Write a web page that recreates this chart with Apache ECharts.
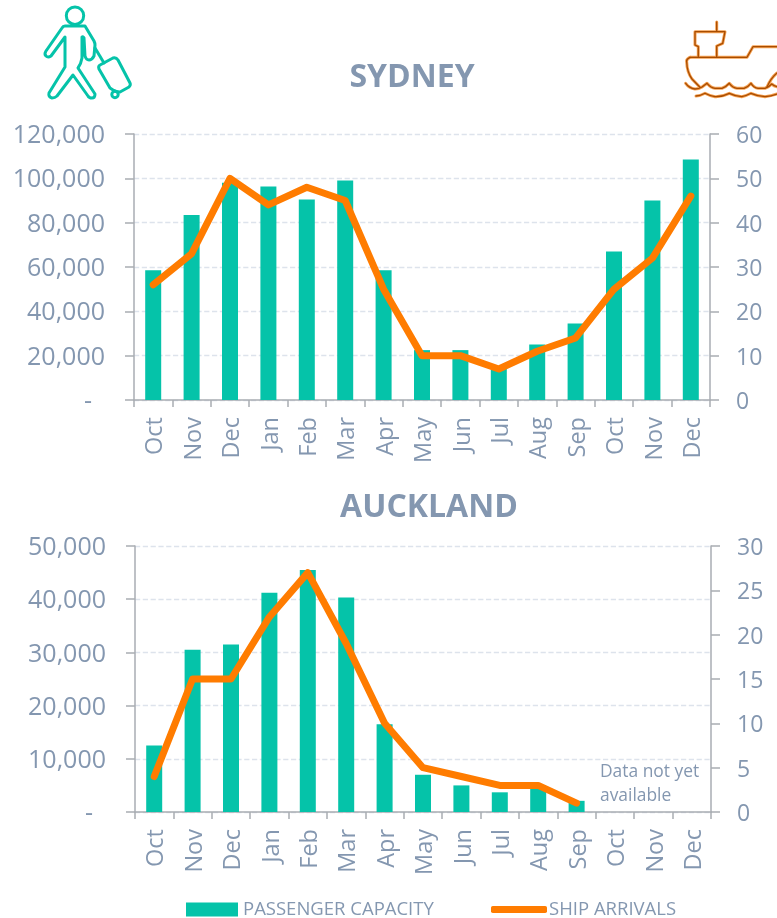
<!DOCTYPE html>
<html><head><meta charset="utf-8">
<style>html,body{margin:0;padding:0;background:#fff}#c{width:777px;height:918px}</style>
<script src="https://cdn.jsdelivr.net/npm/echarts@6/dist/echarts.min.js"></script>
</head><body><div id="c"></div>
<script>
const months = ['Oct','Nov','Dec','Jan','Feb','Mar','Apr','May','Jun','Jul','Aug','Sep','Oct','Nov','Dec'];
const sydneyCapacity = [58500,83500,98000,96300,90500,99000,58500,22500,22500,15000,25000,34500,67000,90000,108500];
const sydneyArrivals = [26,33,50,44,48,45,25,10,10,7,11,14,25,32,46];
const aucklandCapacity = [12500,30500,31500,41200,45500,40300,16500,7000,5000,3700,4500,2100,null,null,null];
const aucklandArrivals = [4,15,15,22,27,19,10,5,4,3,3,1,null,null,null];
const TXT='#8497B0', AX='#A9ADB3', GRID='#DDE3EC', TEAL='#05C3A9', ORANGE='#FF7C00', SHIP='#A84C00', SHIPGLOW='#F5A050';
const FONT='"Open Sans"';
const chart = echarts.init(document.getElementById('c'),null,{renderer:'canvas'});
const iconPaths={
  walker:'M65 26 L85 26 L94 41 Q95 43 95 45 L94 56 Q92 60 89 60 Q86 60 85 56 L84 38 Q83 36 82 37 L82 58 Q81 64 78 68 L95 94 Q95 98 92 98 Q89 98 88 96 L73 75 L57 96 Q55 98 52 98 Q48 97 49 93 L65 67 L65 37 L51 56 Q48 58 46 56 Q44 54 46 51 L62 28 Q63 26 65 26 Z',
  handle:'M95 48 L104 63',
  bag:'M100 65 L113 58 Q116 57 118 60 L130 83 Q131 85 129 87 L120 92 Q116 92 113 90 L110 88 L99 69 Q98 66 100 65 Z',
  shipTop:'M716.7 22 L716.7 31.7 M695 31.7 L725 31.7 L722.7 43.3 L716.7 46 L716.7 57 M695 31.7 L695 45 L698.3 46.7 L698.3 57 M690 57.3 L747 57.3 L753 46.7 L777 46.7',
  hull:'M690 57.3 Q686 59 686.7 62 Q687 72 692 79 L700 87.3 M777 73 Q771 78 767 87',
  wave1:'M685.7 83.3 Q689 88 695 89 Q699 89 702 87 L707 83.3 Q711 88 715 88.3 L722 88.3 Q726 87 729.3 83.3 Q733 88 737 88.3 L744 88.3 Q748 87 751 83.3 Q754 88 758 88.3 L765 88.3 Q769 87 771.7 84 Q774 86 777 86.7',
  wave2:'M696 96 Q700 96 705 93.3 Q710 96 715 96.7 Q722 97 729.3 93.3 Q735 96 741.7 96.7 Q746 96 751 93.3 Q757 96 765 96.7 Q771 96 777 94'
};
Object.keys(iconPaths).forEach(k=>echarts.graphic.registerShape(k,echarts.graphic.extendPath(iconPaths[k])));
const valAxis=(gi,max,interval,pos,fmt)=>({type:'value',gridIndex:gi,min:0,max,interval,position:pos,
  axisLine:{show:true,lineStyle:{color:AX,width:1.5}},
  axisTick:{show:true,length:9,lineStyle:{color:AX,width:1.5}},
  axisLabel:{color:TXT,fontFamily:FONT,fontSize:pos==='left'?25:23,margin:pos==='left'?29:26,formatter:fmt,
    verticalAlign:'top',lineHeight:pos==='left'?4:5},
  splitLine:{show:pos==='left',lineStyle:{color:GRID,type:'dashed',width:1.3}}});
const catAxis=gi=>({type:'category',gridIndex:gi,data:months,boundaryGap:true,
  axisLine:{lineStyle:{color:AX,width:1.5}},
  axisTick:{show:true,alignWithLabel:false,length:7,lineStyle:{color:AX,width:1.5}},
  axisLabel:{color:TXT,fontFamily:FONT,fontSize:23.5,rotate:90,margin:17,interval:0,verticalAlign:'top',lineHeight:5}});
const leftFmt=v=>v===0?'-\u00a0\u00a0':v.toLocaleString('en-US');
const barS=(name,gi,d)=>({name,type:'bar',xAxisIndex:gi,yAxisIndex:gi*2,data:d,barWidth:16,
  itemStyle:{color:TEAL},z:2});
const lineS=(name,gi,d)=>({name,type:'line',xAxisIndex:gi,yAxisIndex:gi*2+1,data:d,symbol:'none',
  lineStyle:{color:ORANGE,width:7,cap:'round',join:'round'},itemStyle:{color:ORANGE},z:3});
const st=(c,w)=>({fill:'none',stroke:c,lineWidth:w,lineJoin:'round',lineCap:'round'});
const icon=(type,c,w)=>({type,silent:true,style:st(c,w)});
const shipParts=['shipTop','hull','wave1','wave2'];
chart.setOption({
  animation:false,
  backgroundColor:'#fff',
  title:[
    {text:'SYDNEY',left:407,top:57,textAlign:'center',textStyle:{color:TXT,fontFamily:FONT,fontWeight:'bold',fontSize:32}},
    {text:'AUCKLAND',left:424,top:487,textAlign:'center',textStyle:{color:TXT,fontFamily:FONT,fontWeight:'bold',fontSize:32}}
  ],
  grid:[
    {left:134,right:67,top:134,height:266},
    {left:135,right:66,top:546,height:266}
  ],
  xAxis:[catAxis(0),catAxis(1)],
  yAxis:[
    valAxis(0,120000,20000,'left',leftFmt),
    valAxis(0,60,10,'right'),
    valAxis(1,50000,10000,'left',leftFmt),
    valAxis(1,30,5,'right')
  ],
  legend:[
    {data:[{name:'PASSENGER CAPACITY',icon:'rect'}],left:186,top:900,padding:0,itemWidth:52,itemHeight:14,
     textStyle:{color:TXT,fontFamily:FONT,fontSize:18.5}},
    {data:[{name:'SHIP ARRIVALS',icon:'roundRect'}],left:491,top:900,padding:0,itemWidth:56,itemHeight:7,
     textStyle:{color:TXT,fontFamily:FONT,fontSize:18.5,padding:[0,0,0,-3]}}
  ],
  series:[
    barS('PASSENGER CAPACITY',0,sydneyCapacity),
    lineS('SHIP ARRIVALS',0,sydneyArrivals),
    barS('PASSENGER CAPACITY',1,aucklandCapacity),
    lineS('SHIP ARRIVALS',1,aucklandArrivals)
  ],
  graphic:[
    {type:'text',x:600,y:760,silent:true,style:{text:'Data not yet\navailable',fill:TXT,font:'17.4px "Open Sans"',lineHeight:24}},
    {type:'circle',silent:true,shape:{cx:75,cy:15.7,r:8.7},style:st(TEAL,3)},
    icon('walker',TEAL,3),icon('handle',TEAL,3),icon('bag',TEAL,3),
    {type:'circle',silent:true,shape:{cx:115,cy:94.5,r:3.2},style:st(TEAL,3)},
    ...shipParts.map(p=>icon(p,SHIPGLOW,3)),
    ...shipParts.map(p=>icon(p,SHIP,1.3))
  ]
});
</script></body></html>
